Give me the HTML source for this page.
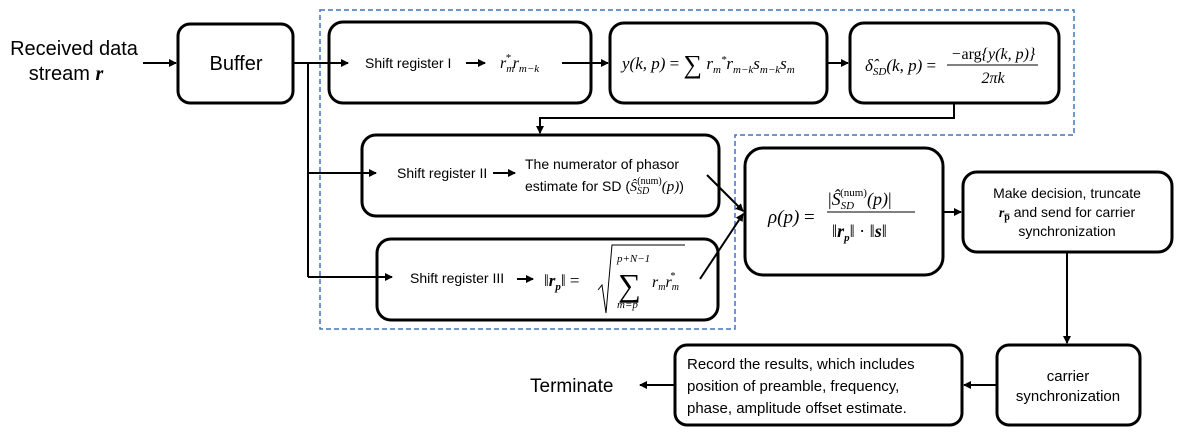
<!DOCTYPE html>
<html><head><meta charset="utf-8"><style>
html,body{margin:0;padding:0;background:#fff;width:1181px;height:435px;overflow:hidden}
svg{display:block}
.t{font-family:"Liberation Sans",sans-serif;fill:#000}
.m{font-family:"Liberation Serif",serif;font-style:italic;fill:#000}
.r{font-family:"Liberation Serif",serif;fill:#000}
.box{fill:#fff;stroke:#000;stroke-width:3}
.ln{stroke:#000;stroke-width:2;fill:none}
</style></head><body>
<svg width="1181" height="435" viewBox="0 0 1181 435">
<defs><marker id="a" markerWidth="8" markerHeight="8" refX="7" refY="4" orient="auto" markerUnits="userSpaceOnUse"><path d="M0,0 L8,4 L0,8 Z" fill="#000"/></marker></defs>
<path d="M320,10 H1074 V135 H735 V329 H320 Z" fill="none" stroke="#4472c4" stroke-width="1.5" stroke-dasharray="5,3"/>
<g><text class="t" x="74" y="55" font-size="20" text-anchor="middle">Received data</text><text class="t" x="66" y="80" font-size="20" text-anchor="middle">stream <tspan font-family="Liberation Serif" font-weight="bold" font-style="italic">r</tspan></text></g>
<rect class="box" x="178" y="24" width="115" height="79" rx="12"/>
<text class="t" x="236" y="70" font-size="20" text-anchor="middle">Buffer</text>
<rect class="box" x="329" y="22" width="262" height="81" rx="14"/>
<text class="t" x="365" y="68" font-size="14">Shift register I</text>
<text class="m" x="500" y="68" font-size="16">r<tspan font-size="11" dy="4">m</tspan><tspan font-size="11" dx="-9" dy="-11">*</tspan><tspan dy="7" dx="2">r</tspan><tspan font-size="11" dy="4">m−k</tspan></text>
<rect class="box" x="610" y="23" width="217" height="80" rx="14"/>
<text class="m" x="622" y="69" font-size="17">y(k, p) <tspan font-style="normal">=</tspan> <tspan font-style="normal" font-size="26" dy="4">∑</tspan><tspan dy="-4"> r</tspan><tspan font-size="11" dy="4">m</tspan><tspan font-size="11" dy="-10">*</tspan><tspan dy="6">r</tspan><tspan font-size="11" dy="4">m−k</tspan><tspan dy="-4">s</tspan><tspan font-size="11" dy="4">m−k</tspan><tspan dy="-4">s</tspan><tspan font-size="11" dy="4">m</tspan></text>
<rect class="box" x="850" y="23" width="209" height="80" rx="14"/>
<text class="m" x="865" y="71" font-size="17">δ̂<tspan font-size="11" dy="4">SD</tspan><tspan dy="-4">(k, p) </tspan><tspan font-style="normal">=</tspan></text>
<text class="m" x="993" y="59" font-size="16" text-anchor="middle">−<tspan font-style="normal">arg</tspan>{y(k, p)}</text>
<line x1="947" y1="65" x2="1038" y2="65" stroke="#000" stroke-width="1"/>
<text class="m" x="993" y="83" font-size="16" text-anchor="middle">2πk</text>
<rect class="box" x="362" y="135" width="357" height="81" rx="14"/>
<text class="t" x="397" y="178" font-size="14">Shift register II</text>
<text class="t" x="525" y="169" font-size="14">The numerator of phasor</text>
<text class="t" x="525" y="191" font-size="14">estimate for SD (<tspan font-family="Liberation Serif" font-style="italic">Ŝ</tspan><tspan font-family="Liberation Serif" font-style="italic" font-size="10" dy="3">SD</tspan><tspan font-family="Liberation Serif" font-size="10" dy="-10" dx="-12">(num)</tspan><tspan font-family="Liberation Serif" font-style="italic" dy="7" font-size="15">(p)</tspan>)</text>
<rect class="box" x="377" y="239" width="341" height="81" rx="14"/>
<text class="t" x="410" y="283" font-size="14">Shift register III</text>
<text class="m" x="544" y="286" font-size="17"><tspan font-style="normal">‖</tspan><tspan font-weight="bold">r</tspan><tspan font-size="11" dy="4" font-weight="bold">p</tspan><tspan font-style="normal" dy="-4">‖ =</tspan></text>
<path d="M598,290 L602,285 L606,313 L612,245 L685,245" fill="none" stroke="#000" stroke-width="1"/>
<text class="m" x="617" y="262" font-size="11">p+N−1</text>
<text class="r" x="618" y="296" font-size="32">∑</text>
<text class="m" x="617" y="308" font-size="11">m=p</text>
<text class="m" x="652" y="287" font-size="16">r<tspan font-size="10" dy="3">m</tspan><tspan dy="-3">r</tspan><tspan font-size="10" dy="3">m</tspan><tspan font-size="10" dx="-9" dy="-11">*</tspan></text>
<rect class="box" x="745" y="148" width="198" height="127" rx="18"/>
<text class="m" x="768" y="223" font-size="19">ρ(p) <tspan font-style="normal">=</tspan></text>
<text class="m" x="828" y="205" font-size="18"><tspan font-style="normal">|</tspan>Ŝ<tspan font-size="11" dy="4">SD</tspan><tspan font-style="normal" font-size="11" dy="-13" dx="-14">(num)</tspan><tspan dy="9">(p)</tspan><tspan font-style="normal">|</tspan></text>
<line x1="827" y1="212" x2="915" y2="212" stroke="#000" stroke-width="1"/>
<text class="m" x="832" y="237" font-size="18"><tspan font-style="normal">‖</tspan><tspan font-weight="bold">r</tspan><tspan font-size="11" font-weight="bold" dy="4">p</tspan><tspan font-style="normal" dy="-4">‖ · ‖</tspan><tspan font-weight="bold">s</tspan><tspan font-style="normal">‖</tspan></text>
<rect class="box" x="963" y="172" width="209" height="80" rx="14"/>
<text class="t" x="1067" y="198" font-size="14" text-anchor="middle">Make decision, truncate</text>
<text class="t" x="1067" y="217" font-size="14" text-anchor="middle"><tspan font-family="Liberation Serif" font-style="italic" font-weight="bold">r</tspan><tspan font-family="Liberation Serif" font-size="10" font-weight="bold" dy="3">p̅</tspan><tspan dy="-3"> and send for carrier</tspan></text>
<text class="t" x="1067" y="236" font-size="14" text-anchor="middle">synchronization</text>
<rect class="box" x="997" y="345" width="143" height="80" rx="12"/>
<text class="t" x="1068" y="381" font-size="15" text-anchor="middle">carrier</text>
<text class="t" x="1068" y="401" font-size="15" text-anchor="middle">synchronization</text>
<rect class="box" x="675" y="345" width="287" height="80" rx="12"/>
<text class="t" x="687" y="369" font-size="15">Record the results, which includes</text>
<text class="t" x="687" y="391" font-size="15">position of preamble, frequency,</text>
<text class="t" x="687" y="413" font-size="15">phase, amplitude offset estimate.</text>
<text class="t" x="530" y="392" font-size="19">Terminate</text>
<g>
<line class="ln" x1="143" y1="63" x2="176" y2="63" marker-end="url(#a)"/>
<line class="ln" x1="293" y1="63" x2="348" y2="63" marker-end="url(#a)"/>
<polyline class="ln" points="308,63 308,277"/>
<line class="ln" x1="308" y1="173" x2="376" y2="173" marker-end="url(#a)"/>
<line class="ln" x1="308" y1="277" x2="392" y2="277" marker-end="url(#a)"/>
<line class="ln" x1="466" y1="63" x2="485" y2="63" marker-end="url(#a)"/>
<line class="ln" x1="562" y1="63" x2="608" y2="63" marker-end="url(#a)"/>
<line class="ln" x1="827" y1="63" x2="848" y2="63" marker-end="url(#a)"/>
<polyline class="ln" points="954,103 954,118 540,118 540,133" marker-end="url(#a)"/>
<line class="ln" x1="493" y1="173" x2="515" y2="173" marker-end="url(#a)"/>
<line class="ln" x1="517" y1="279" x2="533" y2="279" marker-end="url(#a)"/>
<line class="ln" x1="707" y1="175" x2="743" y2="211" marker-end="url(#a)"/>
<line class="ln" x1="700" y1="279" x2="743" y2="214" marker-end="url(#a)"/>
<line class="ln" x1="943" y1="212" x2="961" y2="212" marker-end="url(#a)"/>
<line class="ln" x1="1067" y1="252" x2="1067" y2="343" marker-end="url(#a)"/>
<line class="ln" x1="997" y1="385" x2="964" y2="385" marker-end="url(#a)"/>
<line class="ln" x1="675" y1="385" x2="640" y2="385" marker-end="url(#a)"/>
</g>
</svg>
</body></html>
